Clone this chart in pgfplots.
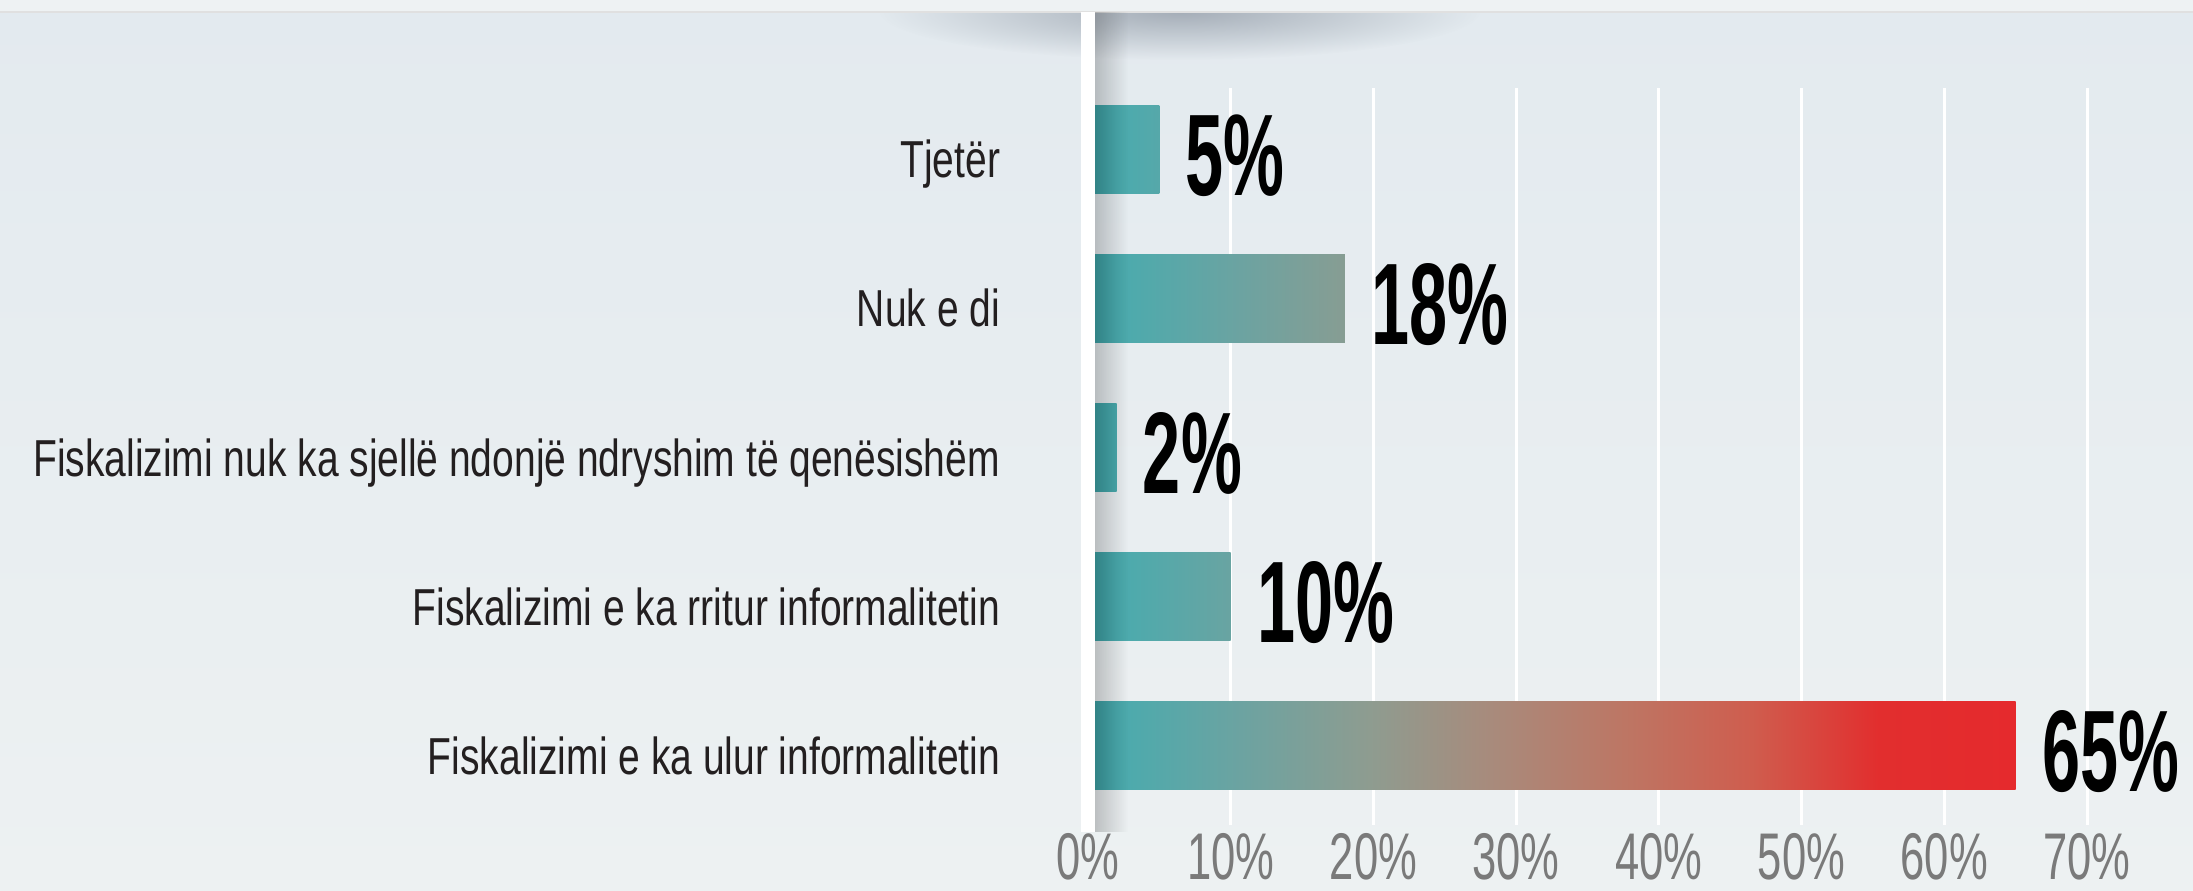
\documentclass[border=0pt]{standalone}
\usepackage{pgfplots}
\pgfplotsset{compat=1.18}
\usepackage{fontspec}
\setmainfont{Liberation Sans}
\newfontfamily\catfont[FakeStretch=0.75]{Liberation Sans}
\newfontfamily\tickfont[FakeStretch=0.66]{Liberation Sans}
\newfontfamily\valfont[FakeStretch=0.59]{Liberation Sans}
\usetikzlibrary{fadings}

\definecolor{g0}{HTML}{3BA2A6}
\definecolor{g2}{HTML}{4AABAE}
\definecolor{g10}{HTML}{6CA3A1}
\definecolor{g20}{HTML}{8E9C90}
\definecolor{g29}{HTML}{A98A7B}
\definecolor{g38}{HTML}{BD7664}
\definecolor{g47}{HTML}{CF5D4E}
\definecolor{g55}{HTML}{E22E2E}
\definecolor{g65}{HTML}{E52A2D}
\definecolor{e18}{HTML}{879D93}
\definecolor{e10}{HTML}{69A4A2}
\definecolor{e5}{HTML}{56A8AA}
\definecolor{bgtop}{HTML}{E3EAEF}
\definecolor{bgbot}{HTML}{EDF1F2}
\definecolor{topband}{HTML}{EEF2F3}
\definecolor{shadowcol}{HTML}{9AA3AE}
\definecolor{catcol}{HTML}{231F20}
\definecolor{tickcol}{HTML}{7A7A7A}

\pgfdeclarehorizontalshading{bar65}{100bp}{color(0bp)=(g0); color(25bp)=(g0); color(26.54bp)=(g2); color(33.23bp)=(g10); color(40.15bp)=(g20); color(47bp)=(g29); color(53.92bp)=(g38); color(60.77bp)=(g47); color(67.62bp)=(g55); color(75bp)=(g65); color(100bp)=(g65)}
\pgfdeclarehorizontalshading{bar18}{100bp}{color(0bp)=(g0); color(25bp)=(g0); color(30.56bp)=(g2); color(54.72bp)=(g10); color(75bp)=(e18); color(100bp)=(e18)}
\pgfdeclarehorizontalshading{bar10}{100bp}{color(0bp)=(g0); color(25bp)=(g0); color(35bp)=(g2); color(75bp)=(e10); color(100bp)=(e10)}
\pgfdeclarehorizontalshading{bar5}{100bp}{color(0bp)=(g0); color(25bp)=(g0); color(45bp)=(g2); color(75bp)=(e5); color(100bp)=(e5)}
\pgfdeclarehorizontalshading{bar2}{100bp}{color(0bp)=(g0); color(25bp)=(g0); color(75bp)=(g2); color(100bp)=(g2)}

\tikzfading[name=softfade, inner color=transparent!15, outer color=transparent!100]

\begin{document}
\begin{tikzpicture}
\useasboundingbox (0,0) rectangle (1096.5pt,445pt);
\shade[top color=bgtop, bottom color=bgbot] (0,0) rectangle (1096.5pt,445pt);
\begin{scope}
\clip (0,0) rectangle (1096.5pt,439pt);
\fill[shadowcol, path fading=softfade] (590pt,439pt) ellipse (150pt and 24pt);
\end{scope}
\fill[topband] (0,439pt) rectangle (1096.5pt,445pt);
\draw[line width=0.6pt, color=black!12] (0,439pt) -- (1096.5pt,439pt);

\begin{axis}[
  at={(544pt,32.5pt)}, anchor=south west,
  scale only axis, width=499.5pt, height=368.5pt,
  xmin=0, xmax=70, ymin=-0.53, ymax=4.41,
  clip=false,
  axis line style={draw=none},
  major tick style={draw=none},
  xmajorgrids, grid style={white, line width=1.5pt},
  xtick={0,10,20,30,40,50,60,70},
  xticklabels={0\%,10\%,20\%,30\%,40\%,50\%,60\%,70\%},
  xticklabel style={font=\tickfont\fontsize{33}{33}\selectfont, text=tickcol, anchor=base, inner sep=0pt, yshift=-27pt},
  ytick={0,1,2,3,4},
  yticklabels={Fiskalizimi e ka ulur informalitetin, Fiskalizimi e ka rritur informalitetin, Fiskalizimi nuk ka sjellë ndonjë ndryshim të qenësishëm, Nuk e di, Tjetër},
  yticklabel style={font=\catfont\fontsize{26}{26}\selectfont, text=catcol, anchor=base east, inner sep=0pt, xshift=-39.5pt, yshift=-14.3pt},
  xbar, bar width=44pt, bar shift=0pt,
  point meta=explicit symbolic,
  nodes near coords={\pgfplotspointmeta\%},
  every node near coord/.append style={font=\valfont\bfseries\fontsize{58}{58}\selectfont, text=black, anchor=base west, inner sep=0pt, xshift=13pt, yshift=-23pt},
]
\addplot[xbar, draw=none, shading=bar65] coordinates {(65,0) [65]};
\addplot[xbar, draw=none, shading=bar10] coordinates {(10,1) [10]};
\addplot[xbar, draw=none, shading=bar2] coordinates {(2,2) [2]};
\addplot[xbar, draw=none, shading=bar18] coordinates {(18,3) [18]};
\addplot[xbar, draw=none, shading=bar5] coordinates {(5,4) [5]};
\end{axis}

\fill[black, opacity=0.2, path fading=east] (547.5pt,29pt) rectangle (564pt,439pt);
\fill[white] (540.5pt,29pt) rectangle (547.5pt,439pt);
\end{tikzpicture}
\end{document}
